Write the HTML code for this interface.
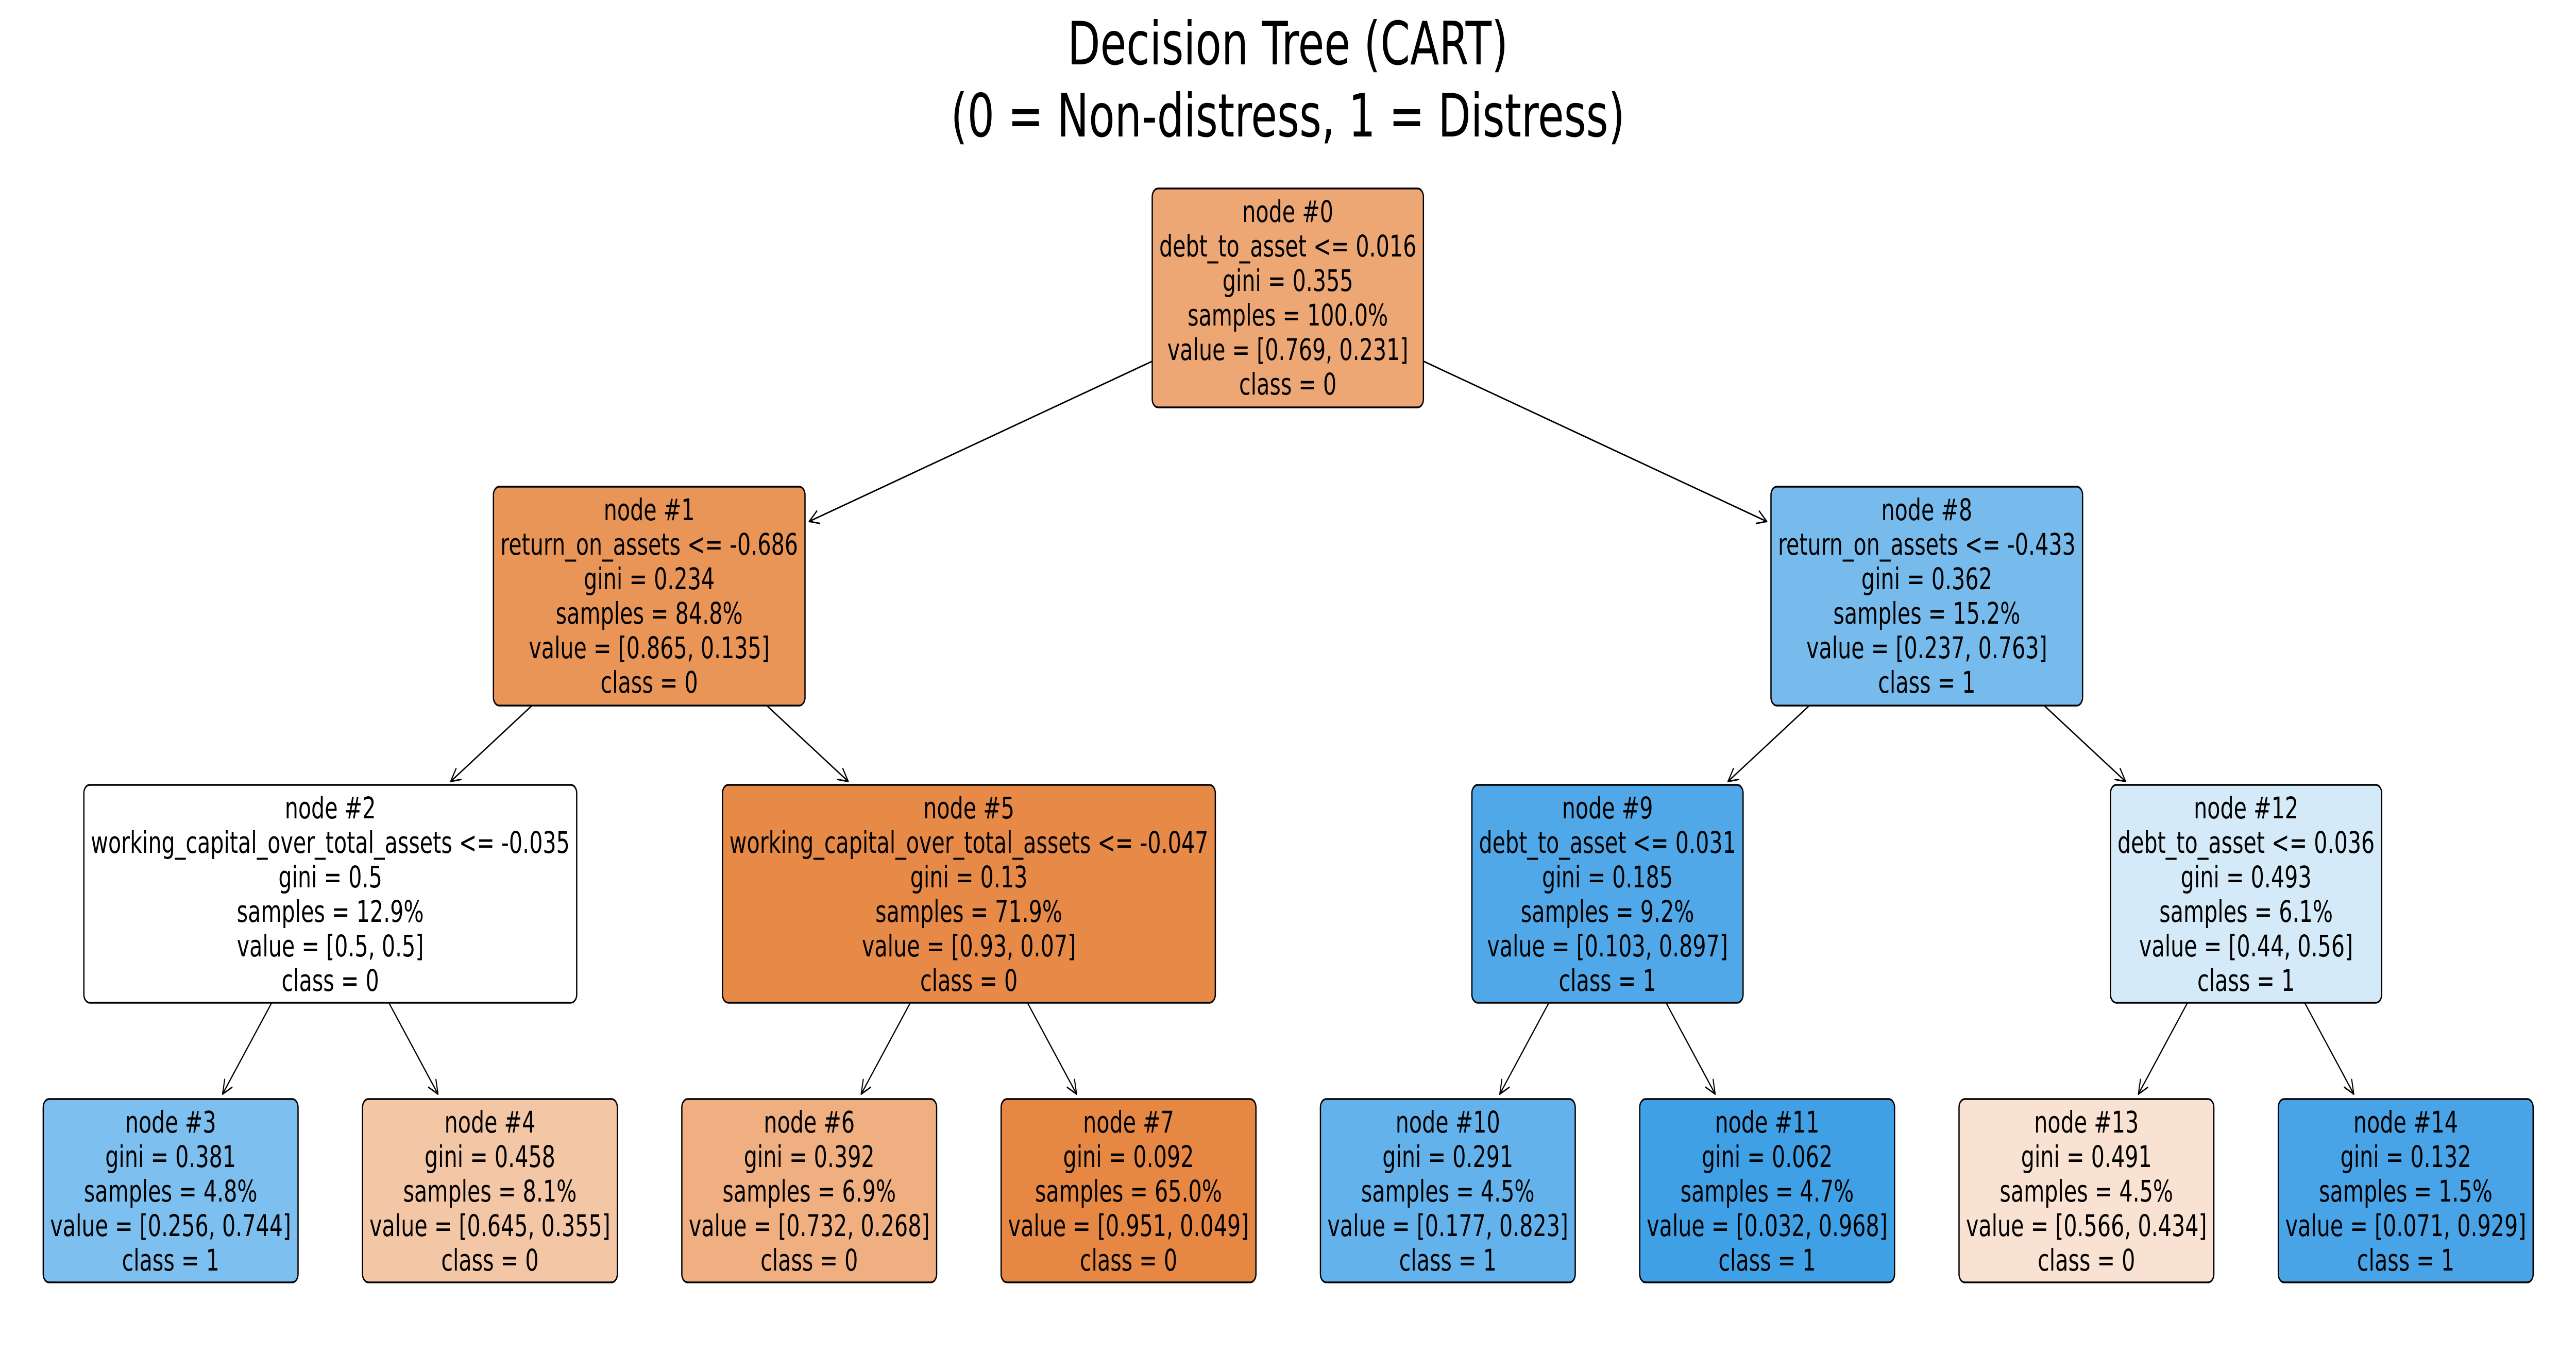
<!DOCTYPE html>
<html><head><meta charset="utf-8">
<meta name="viewport" content="width=7035, initial-scale=1">
<style>
html,body{margin:0;padding:0;background:#fff;width:100%;height:100%;overflow:hidden;}
svg{display:block;width:100vw;height:100vh;}
text{font-family:"DejaVu Sans","Liberation Sans",sans-serif;fill:#000;}
</style></head>
<body>
<svg id="s" xmlns="http://www.w3.org/2000/svg" viewBox="0 0 7035 2631" preserveAspectRatio="none">
<rect width="7035" height="2631" fill="#fff"/>
<text x="3517" y="125" font-size="116" text-anchor="middle">Decision Tree (CART)</text>
<text x="3517" y="265" font-size="116" text-anchor="middle">(0 = Non-distress, 1 = Distress)</text>
<g id="edges"></g>
<g id="nodes"></g>
</svg>
<script>
(function(){
var NS="http://www.w3.org/2000/svg";
var rows=[[366,791],[945,1370],[1524,1947],[2134,2490]];
var N=[
{id:0,cx:3517,r:0,l:["node #0","debt_to_asset <= 0.016","gini = 0.355","samples = 100.0%","value = [0.769, 0.231]","class = 0"],v:[0.769,0.231],c:[1,8]},
{id:1,cx:1773,r:1,l:["node #1","return_on_assets <= -0.686","gini = 0.234","samples = 84.8%","value = [0.865, 0.135]","class = 0"],v:[0.865,0.135],c:[2,5]},
{id:2,cx:902,r:2,l:["node #2","working_capital_over_total_assets <= -0.035","gini = 0.5","samples = 12.9%","value = [0.5, 0.5]","class = 0"],v:[0.5,0.5],c:[3,4]},
{id:3,cx:466,r:3,l:["node #3","gini = 0.381","samples = 4.8%","value = [0.256, 0.744]","class = 1"],v:[0.256,0.744]},
{id:4,cx:1338,r:3,l:["node #4","gini = 0.458","samples = 8.1%","value = [0.645, 0.355]","class = 0"],v:[0.645,0.355]},
{id:5,cx:2646,r:2,l:["node #5","working_capital_over_total_assets <= -0.047","gini = 0.13","samples = 71.9%","value = [0.93, 0.07]","class = 0"],v:[0.93,0.07],c:[6,7]},
{id:6,cx:2210,r:3,l:["node #6","gini = 0.392","samples = 6.9%","value = [0.732, 0.268]","class = 0"],v:[0.732,0.268]},
{id:7,cx:3082,r:3,l:["node #7","gini = 0.092","samples = 65.0%","value = [0.951, 0.049]","class = 0"],v:[0.951,0.049]},
{id:8,cx:5262,r:1,l:["node #8","return_on_assets <= -0.433","gini = 0.362","samples = 15.2%","value = [0.237, 0.763]","class = 1"],v:[0.237,0.763],c:[9,12]},
{id:9,cx:4390,r:2,l:["node #9","debt_to_asset <= 0.031","gini = 0.185","samples = 9.2%","value = [0.103, 0.897]","class = 1"],v:[0.103,0.897],c:[10,11]},
{id:10,cx:3954,r:3,l:["node #10","gini = 0.291","samples = 4.5%","value = [0.177, 0.823]","class = 1"],v:[0.177,0.823]},
{id:11,cx:4826,r:3,l:["node #11","gini = 0.062","samples = 4.7%","value = [0.032, 0.968]","class = 1"],v:[0.032,0.968]},
{id:12,cx:6134,r:2,l:["node #12","debt_to_asset <= 0.036","gini = 0.493","samples = 6.1%","value = [0.44, 0.56]","class = 1"],v:[0.44,0.56],c:[13,14]},
{id:13,cx:5698,r:3,l:["node #13","gini = 0.491","samples = 4.5%","value = [0.566, 0.434]","class = 0"],v:[0.566,0.434]},
{id:14,cx:6570,r:3,l:["node #14","gini = 0.132","samples = 1.5%","value = [0.071, 0.929]","class = 1"],v:[0.071,0.929]}
];
var gN=document.getElementById("nodes"),gE=document.getElementById("edges");
function el(t,a,p){var e=document.createElementNS(NS,t);for(var k in a)e.setAttribute(k,a[k]);p.appendChild(e);return e;}
function color(v){
  var c0=[229,129,57],c1=[57,157,229];
  var mx=Math.max(v[0],v[1]),mn=Math.min(v[0],v[1]);
  var a=(mx-mn)/(1-mn);var c=v[0]>=v[1]?c0:c1;
  return "rgb("+c.map(function(x){return Math.round(a*x+(1-a)*255);}).join(",")+")";
}
N.forEach(function(n){
  var top=rows[n.r][0],bot=rows[n.r][1];
  var g=el("g",{},gN);
  var rect=el("rect",{y:top,height:bot-top,rx:16,ry:16,fill:color(n.v),stroke:"#000","stroke-width":3.5},g);
  var w=0;
  n.l.forEach(function(s,i){
    var t=el("text",{x:n.cx,y:top+65+67*i,"font-size":58,"text-anchor":"middle"},g);
    t.textContent=s;
    try{w=Math.max(w,t.getComputedTextLength());}catch(e){}
  });
  if(!w)w=n.l.reduce(function(m,s){return Math.max(m,s.length*33);},0);
  var bw=w+38;
  rect.setAttribute("x",n.cx-bw/2);rect.setAttribute("width",bw);
  n.x0=n.cx-bw/2;n.x1=n.cx+bw/2;n.y0=top;n.y1=bot;n.cy=(top+bot)/2;
});
function clip(n,dx,dy){
  var tx=dx!==0?((dx>0?n.x1:n.x0)-n.cx)/dx:Infinity;
  var ty=dy!==0?((dy>0?n.y1:n.y0)-n.cy)/dy:Infinity;
  return Math.min(Math.abs(tx),Math.abs(ty));
}
N.forEach(function(p){
  if(!p.c)return;
  p.c.forEach(function(ci){
    var c=N[ci];
    var dx=c.cx-p.cx,dy=c.cy-p.cy,L=Math.sqrt(dx*dx+dy*dy);
    var t0=clip(p,dx,dy);
    var t1=1-clip(c,-dx,-dy);
    var sx=p.cx+dx*t0,sy=p.cy+dy*t0;
    var ux=dx/L,uy=dy/L;
    var ex=p.cx+dx*t1-ux*12,ey=p.cy+dy*t1-uy*12;
    el("line",{x1:sx,y1:sy,x2:ex,y2:ey,stroke:"#000","stroke-width":3},gE);
    var ang=Math.atan2(uy,ux),hl=29,ha=0.45;
    [ha,-ha].forEach(function(d){
      var a=ang+Math.PI+d;
      el("line",{x1:ex,y1:ey,x2:ex+hl*Math.cos(a),y2:ey+hl*Math.sin(a),stroke:"#000","stroke-width":3,"stroke-linecap":"round"},gE);
    });
  });
});
})();
</script>
</body></html>
